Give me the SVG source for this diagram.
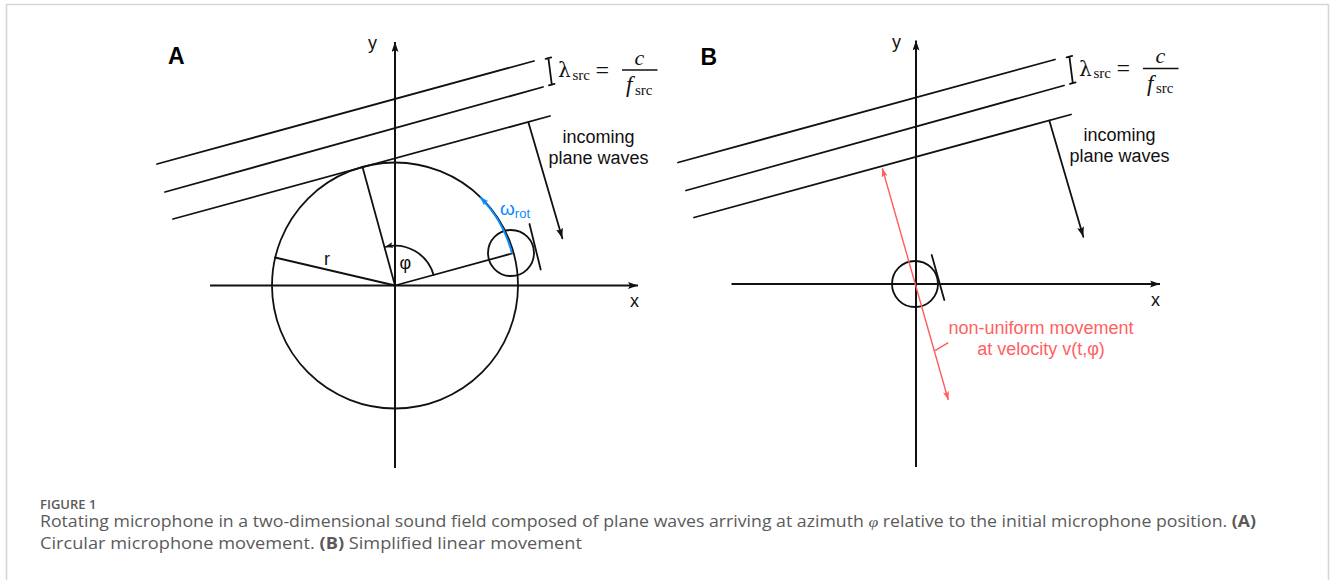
<svg xmlns="http://www.w3.org/2000/svg" width="1332" height="580" viewBox="0 0 1332 580">
<defs>
<style>
.ln{stroke:#111;stroke-width:1.8;fill:none;stroke-linecap:round}
.ax{stroke:#111;stroke-width:2;fill:none}
.lbl{font-family:"Liberation Sans",Arial,sans-serif;font-size:18px;fill:#111}
.pan{font-family:"Liberation Sans",Arial,sans-serif;font-size:23px;font-weight:bold;fill:#000}
.mth{font-family:"Liberation Serif","Times New Roman",serif;fill:#111}
.lam{font-family:"DejaVu Serif",serif;font-size:20px}
.red{font-family:"Liberation Sans",Arial,sans-serif;font-size:18px;fill:#ff6161}
.cap{font-family:"Open Sans","Noto Sans",sans-serif;fill:#5a5a5a}
</style>
<marker id="ah" viewBox="0 0 10 7" refX="10" refY="3.5" markerWidth="10" markerHeight="7" markerUnits="userSpaceOnUse" orient="auto">
<path d="M0,0 L10,3.5 L0,7 L2,3.5 z" fill="#111"/>
</marker>
<marker id="ahs" viewBox="0 0 10 7" refX="10" refY="3.5" markerWidth="8" markerHeight="6" markerUnits="userSpaceOnUse" orient="auto">
<path d="M0,0 L10,3.5 L0,7 L2,3.5 z" fill="#111"/>
</marker>
<marker id="ahb" viewBox="0 0 10 7" refX="10" refY="3.5" markerWidth="9" markerHeight="7" markerUnits="userSpaceOnUse" orient="auto">
<path d="M0,0 L10,3.5 L0,7 L2,3.5 z" fill="#0a8cff"/>
</marker>
<marker id="ahr" viewBox="0 0 10 7" refX="10" refY="3.5" markerWidth="9" markerHeight="6" markerUnits="userSpaceOnUse" orient="auto-start-reverse">
<path d="M0,0 L10,3.5 L0,7 L2,3.5 z" fill="#ff5c5c"/>
</marker>
</defs>

<rect x="0" y="0" width="1332" height="580" fill="#fff"/>
<path d="M6.5,600 V4.5 H1328.5 V600" fill="none" stroke="#d6d6d6" stroke-width="1.6"/>

<!-- Panel A -->
<g id="panelA">
<text class="pan" x="168" y="63.5">A</text>
<g id="A-axes">
<line class="ax" x1="395" y1="468" x2="395" y2="42" marker-end="url(#ah)"/>
<line class="ax" x1="210" y1="285.5" x2="638" y2="285.5" marker-end="url(#ah)"/>
<text class="lbl" x="368" y="49">y</text>
<text class="lbl" x="630" y="306.5">x</text>
</g>
<g id="A-waves">
<line class="ln" x1="157" y1="164" x2="534" y2="61"/>
<line class="ln" x1="165" y1="192" x2="543" y2="87"/>
<line class="ln" x1="173" y1="219" x2="550" y2="116"/>
<path class="ln" d="M548.4,58.2 L551.8,84.6 M545.6,58.9 L551.2,57.4 M548.9,85.3 L554.6,83.8"/>
<line class="ln" x1="528.3" y1="122" x2="562.3" y2="238.3" marker-end="url(#ah)"/>
<text class="lbl" x="598.5" y="142.5" text-anchor="middle">incoming</text>
<text class="lbl" x="598.5" y="163.5" text-anchor="middle">plane waves</text>
</g>
<g id="A-formula" class="mth">
<text class="lam" x="558" y="77">λ</text>
<text x="572.5" y="79.5" font-size="15">src</text>
<text x="595.5" y="77.5" font-size="24">=</text>
<line x1="622" y1="70" x2="657.5" y2="70" stroke="#111" stroke-width="1.3"/>
<text x="634.5" y="64.5" font-size="22" font-style="italic">c</text>
<text x="626" y="92" font-size="23" font-style="italic">f</text>
<text x="635" y="94.5" font-size="15">src</text>
</g>
<g id="A-circle">
<circle class="ln" cx="395" cy="285.5" r="123"/>
<line class="ln" x1="395" y1="285.5" x2="362.5" y2="167"/>
<line class="ln" x1="395" y1="285.5" x2="275" y2="257.5"/>
<line class="ln" x1="395" y1="285.5" x2="512" y2="253.5"/>
<text class="lbl" x="324" y="265">r</text>
<path class="ln" d="M433.6,275 A40,40 0 0 0 385,247" stroke-width="1.6" marker-end="url(#ahs)"/>
<text class="lbl" x="399.5" y="269">φ</text>
</g>
<g id="A-mic">
<circle class="ln" cx="511" cy="253" r="23"/>
<line class="ln" x1="529.5" y1="224" x2="540.7" y2="269.5"/>
</g>
<g id="A-omega">
<path d="M512,253.5 A123,123 0 0 0 480,197" fill="none" stroke="#0a8cff" stroke-width="2" marker-end="url(#ahb)"/>
<text x="500" y="215" font-family="Liberation Sans,Arial,sans-serif" font-size="19" fill="#0a8cff">ω<tspan font-size="13" dy="3">rot</tspan></text>
</g>
</g>

<!-- Panel B -->
<g id="panelB">
<text class="pan" x="700.5" y="65">B</text>
<g id="B-axes">
<line class="ax" x1="916" y1="467" x2="916" y2="40.5" marker-end="url(#ah)"/>
<line class="ax" x1="731.5" y1="284" x2="1160" y2="284" marker-end="url(#ah)"/>
<text class="lbl" x="892" y="47.5">y</text>
<text class="lbl" x="1151" y="305.5">x</text>
</g>
<g id="B-waves" transform="translate(521,-1.5)">
<line class="ln" x1="157" y1="164" x2="534" y2="61"/>
<line class="ln" x1="165" y1="192" x2="543" y2="87"/>
<line class="ln" x1="173" y1="219" x2="550" y2="116"/>
<path class="ln" d="M548.4,58.2 L551.8,84.6 M545.6,58.9 L551.2,57.4 M548.9,85.3 L554.6,83.8"/>
<line class="ln" x1="528.3" y1="122" x2="562.3" y2="238.3" marker-end="url(#ah)"/>
<text class="lbl" x="598.5" y="142.5" text-anchor="middle">incoming</text>
<text class="lbl" x="598.5" y="163.5" text-anchor="middle">plane waves</text>
</g>
<g id="B-formula" class="mth" transform="translate(521,-1.5)">
<text class="lam" x="558" y="77">λ</text>
<text x="572.5" y="79.5" font-size="15">src</text>
<text x="595.5" y="77.5" font-size="24">=</text>
<line x1="622" y1="70" x2="657.5" y2="70" stroke="#111" stroke-width="1.3"/>
<text x="634.5" y="64.5" font-size="22" font-style="italic">c</text>
<text x="626" y="92" font-size="23" font-style="italic">f</text>
<text x="635" y="94.5" font-size="15">src</text>
</g>
<g id="B-mic">
<circle class="ln" cx="915" cy="284" r="23"/>
<line class="ln" x1="931.7" y1="255" x2="944.3" y2="300"/>
</g>
<g id="B-movement">
<line x1="882.3" y1="168.3" x2="948.3" y2="400" stroke="#ff5c5c" stroke-width="1.4" marker-start="url(#ahr)" marker-end="url(#ahr)"/>
<line x1="935" y1="350.7" x2="948.3" y2="342.7" stroke="#ff5c5c" stroke-width="1.4"/>
<text class="red" x="1041" y="333.5" text-anchor="middle">non-uniform movement</text>
<text class="red" x="1041" y="355" text-anchor="middle">at velocity v(t,φ)</text>
</g>
</g>

<!-- Caption -->
<g id="caption">
<text class="cap" x="40" y="508.5" font-size="13" font-weight="600">FIGURE 1</text>
<text class="cap" x="40" y="527" font-size="15.5" textLength="1216" lengthAdjust="spacingAndGlyphs">Rotating microphone in a two-dimensional sound field composed of plane waves arriving at azimuth <tspan font-family="Liberation Serif,serif" font-style="italic">φ</tspan> relative to the initial microphone position. <tspan font-weight="700">(A)</tspan></text>
<text class="cap" x="40" y="549" font-size="15.5" textLength="542" lengthAdjust="spacingAndGlyphs">Circular microphone movement. <tspan font-weight="700">(B)</tspan> Simplified linear movement</text>
</g>
</svg>
